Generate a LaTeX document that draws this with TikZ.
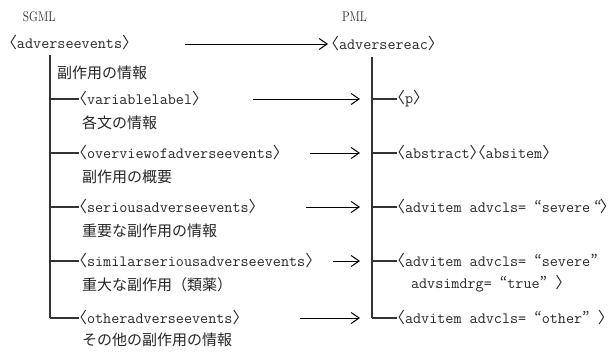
\documentclass[tikz,border=0pt]{standalone}
\usepackage{fontspec}
\newfontfamily\jp{Noto Sans CJK JP}
\usetikzlibrary{arrows.meta}
\newcommand\lb{\makebox[8pt][r]{\jp 〈}}
\newcommand\rb{\makebox[8pt][l]{\jp 〉}}
\newcommand\tg[1]{\lb#1\rb}
\newcommand\oq{{\jp “}}
\newcommand\cq{{\jp ”}}
\begin{document}
\begin{tikzpicture}[x=1pt,y=-1pt,
  every node/.style={inner sep=0pt,outer sep=0pt,anchor=west,text=black!85},
  tag/.style={font=\ttfamily\fontsize{15.7}{16}\selectfont},
  jtext/.style={font=\jp\fontsize{15}{16}\selectfont},
  head/.style={font=\fontsize{14}{14}\selectfont},
  tree/.style={line width=1.3pt,black!80},
  conv/.style={line width=1pt,-{Straight Barb[length=8pt,width=11pt,line width=1pt]}}]
\useasboundingbox (0,0) rectangle (616,351);
% headers
\node[head] (sgml) at (23,17) {\scalebox{0.82}[1]{SGML}};
\node[head] (pml) at (342,17) {\scalebox{0.82}[1]{PML}};
% top level
\node[tag] (ae) at (9,43) {\tg{adverseevents}};
\node[tag] (ar) at (331,44) {\tg{adversereac}};
\coordinate (a0s) at (185,44);
\coordinate (a0e) at (328,44);
\draw[conv] (a0s) -- (a0e);
% left tree
\coordinate (lt) at (50,55);
\coordinate (lbot) at (50,318);
\draw[tree] (lt) -- (lbot);
\node[jtext] (info) at (57,73) {副作用の情報};
% rows
\node[tag] (l1) at (79,99) {\tg{variablelabel}};
\node[jtext] (s1) at (82,123) {各文の情報};
\node[tag] (l2) at (79,153) {\tg{overviewofadverseevents}};
\node[jtext] (s2) at (82,177) {副作用の概要};
\node[tag] (l3) at (79,207) {\tg{seriousadverseevents}};
\node[jtext] (s3) at (82,231) {重要な副作用の情報};
\node[tag] (l4) at (79,261) {\tg{similarseriousadverseevents}};
\node[jtext] (s4) at (82,285) {重大な副作用（類薬）};
\node[tag] (l5) at (79,318) {\tg{otheradverseevents}};
\node[jtext] (s5) at (82,340) {その他の副作用の情報};
\foreach \y/\n in {99/1,153/2,207/3,261/4,318/5}{
  \coordinate (lk\n) at (50,\y);
  \coordinate (lj\n) at (79,\y);
  \draw[tree] (lk\n) -- (lj\n);
}
% right tree
\coordinate (rt) at (372,57);
\coordinate (rbot) at (372,318);
\draw[tree] (rt) -- (rbot);
\node[tag] (r1) at (397,99) {\tg{p}};
\node[tag] (r2) at (397,153) {\tg{abstract}\tg{absitem}};
\node[tag] (r3) at (397,207) {\lb advitem advcls= \oq severe\kern-4pt\ \oq\kern-2pt\rb};
\node[tag] (r4) at (397,261) {\lb advitem advcls= \oq severe\cq};
\node[tag] (r4b) at (411,284) {advsimdrg= \oq true\cq{} \rb};
\node[tag] (r5) at (397,318) {\lb advitem advcls= \oq other\cq{} \rb};
\foreach \y/\n in {99/1,153/2,207/3,261/4,318/5}{
  \coordinate (rk\n) at (372,\y);
  \coordinate (rj\n) at (397,\y);
  \draw[tree] (rk\n) -- (rj\n);
}
% conversion arrows
\foreach \x/\y/\n in {253/99/1,310/153/2,306/207/3,333/261/4,300/318/5}{
  \coordinate (cs\n) at (\x,\y);
  \coordinate (ce\n) at (360,\y);
  \draw[conv] (cs\n) -- (ce\n);
}
\end{tikzpicture}
\end{document}
